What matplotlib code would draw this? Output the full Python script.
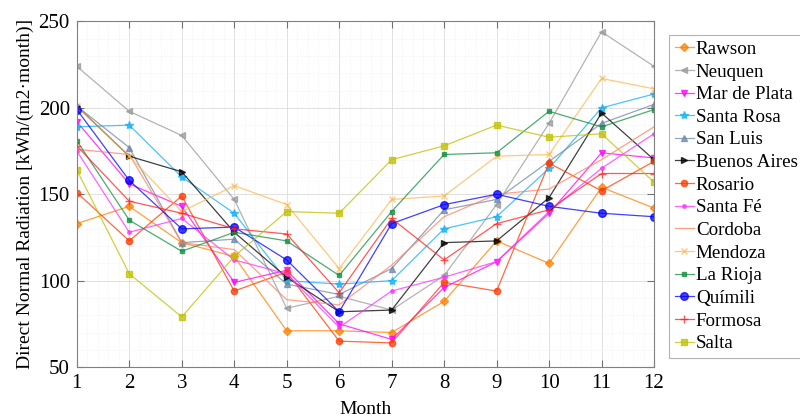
import matplotlib
matplotlib.use("Agg")
import matplotlib.pyplot as plt
from matplotlib.ticker import MultipleLocator

plt.rcParams['font.family'] = ['Liberation Serif', 'DejaVu Serif']

months = list(range(1, 13))

# monthly direct normal radiation, kWh/(m2*month)
rawson = [133, 143, 122, 114, 71, 71, 70, 88, 123, 110, 154, 142]
neuquen = [224, 198, 184, 147, 84, 91, 83, 103, 144, 191, 244, 224]
mar_de_plata = [192, 156, 143, 99, 106, 75, 66, 96, 111, 139, 174, 171]
santa_rosa = [189, 190, 160, 139, 100, 98, 100, 130, 137, 165, 200, 208]
san_luis = [201, 177, 122, 124, 98, 92, 107, 141, 147, 169, 191, 202]
buenos_aires = [201, 172, 163, 128, 102, 82, 83, 122, 123, 148, 197, 170]
rosario = [151, 123, 149, 94, 105, 65, 64, 99, 94, 168, 152, 169]
santa_fe = [175, 128, 136, 112, 104, 73, 94, 102, 111, 140, 165, 185]
cordoba = [176, 173, 122, 118, 89, 86, 109, 137, 150, 153, 170, 189]
mendoza = [201, 172, 140, 155, 144, 107, 147, 149, 172, 173, 217, 211]
la_rioja = [181, 135, 117, 128, 123, 103, 140, 173, 174, 198, 189, 199]
quimili = [199, 158, 130, 131, 112, 82, 133, 144, 150, 143, 139, 137]
formosa = [178, 146, 139, 130, 127, 93, 136, 112, 133, 141, 162, 162]
salta = [164, 104, 79, 114, 140, 139, 170, 178, 190, 183, 185, 157]

cities = ['Rawson', 'Neuquen', 'Mar de Plata', 'Santa Rosa', 'San Luis',
          'Buenos Aires', 'Rosario', 'Santa Fé', 'Cordoba', 'Mendoza',
          'La Rioja', 'Químili', 'Formosa', 'Salta']
series = [rawson, neuquen, mar_de_plata, santa_rosa, san_luis, buenos_aires,
          rosario, santa_fe, cordoba, mendoza, la_rioja, quimili, formosa, salta]

# (color, marker, marker size)
styles = [
    ('#ff8000', 'D', 4),
    ('#9a9a9a', '<', 5),
    ('#ff00ff', 'v', 5),
    ('#10b0f8', '*', 6),
    ('#6f88a8', '^', 5),
    ('#000000', '>', 5),
    ('#ff3800', 'o', 4.5),
    ('#ff30ff', '.', 5),
    ('#ff8060', '', 0),
    ('#ffb850', 'x', 4),
    ('#109040', 's', 3.5),
    ('#0000ff', 'o', 5.5),
    ('#ff2020', '+', 6),
    ('#c0c000', 's', 5),
]

fig = plt.figure(figsize=(8, 4.2), dpi=100)
ax = fig.add_axes([0.096, 0.126, 0.7215, 0.823])

for name, vals, (col, mk, ms) in zip(cities, series, styles):
    ax.plot(months, vals, color=col, marker=mk, markersize=ms, lw=0.9,
            alpha=0.75, markeredgewidth=1.0, label=name)

ax.set_xlim(1, 12)
ax.set_ylim(50, 250)
ax.set_xticks(months)
ax.yaxis.set_major_locator(MultipleLocator(50))
ax.xaxis.set_minor_locator(MultipleLocator(0.2))
ax.yaxis.set_minor_locator(MultipleLocator(10))
ax.grid(which='major', color='#dcdcdc', lw=0.6)
ax.grid(which='minor', color='#ececec', lw=0.5, ls=':')
ax.tick_params(which='both', direction='in', top=True, right=True,
               color='#707070', labelsize=15)
ax.tick_params(which='minor', length=0)
ax.tick_params(which='major', length=5, pad=5)
for sp in ax.spines.values():
    sp.set_color('#808080')

ax.set_xlabel('Month', fontsize=14, labelpad=6)
ax.set_ylabel('Direct Normal Radiation [kWh/(m2·month)]', fontsize=14, labelpad=3)

leg = fig.legend(loc='upper left', bbox_to_anchor=(0.836, 0.917), fontsize=13.7,
                 frameon=True, fancybox=False, edgecolor='#a0a0a0',
                 labelspacing=0.28, handlelength=1.0, handletextpad=0.12,
                 borderpad=0.3, borderaxespad=0)
leg.get_frame().set_linewidth(0.8)

fig.savefig('out.png', dpi=100)
